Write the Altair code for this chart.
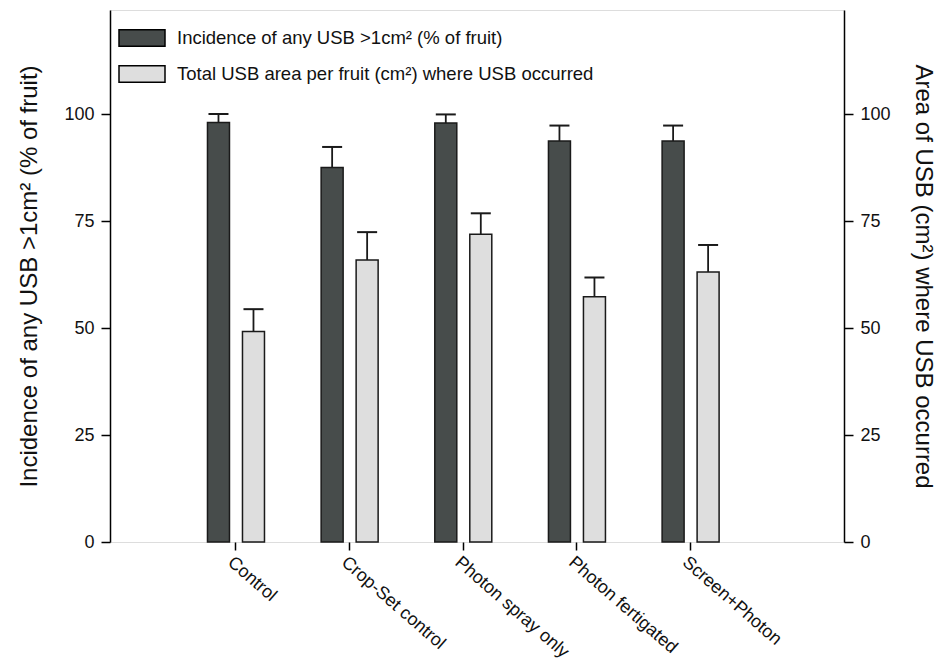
import json
import altair as alt
import pandas as pd

# ---- data ----
categories = ["Control", "Crop-Set control", "Photon spray only", "Photon fertigated", "Screen+Photon"]
incidence = [98.0, 87.5, 97.9, 93.7, 93.7]
incidence_err = [2.0, 4.8, 2.0, 3.6, 3.6]
area = [49.2, 65.9, 71.9, 57.3, 63.1]
area_err = [5.2, 6.5, 4.9, 4.5, 6.3]
y_ticks = [0, 25, 50, 75, 100]
series_names = [
    "Incidence of any USB >1cm² (% of fruit)",
    "Total USB area per fruit (cm²) where USB occurred",
]
left_title = "Incidence of any USB >1cm² (% of fruit)"
right_title = "Area of USB (cm²) where USB occurred"

FONT = "Liberation Sans, Arial, Helvetica, sans-serif"
DARK = "#474c4b"
LIGHT = "#dedede"

positions = list(range(1, len(categories) + 1))

df_inc = pd.DataFrame({
    "cat": categories,
    "pos": positions,
    "value": incidence,
    "upper": [v + e for v, e in zip(incidence, incidence_err)],
    "series": series_names[0],
})
df_area = pd.DataFrame({
    "cat": categories,
    "pos": positions,
    "value": area,
    "upper": [v + e for v, e in zip(area, area_err)],
    "series": series_names[1],
})

xscale = alt.Scale(domain=[-0.06, 6.31], nice=False, zero=False)
yscale = alt.Scale(domain=[0, 124.3], nice=False, zero=True)

x_axis = alt.Axis(
    values=positions,
    labelExpr=json.dumps(categories) + "[datum.value - 1]",
    title=None,
    grid=False,
    domain=False,
    ticks=True,
    tickSize=8,
    tickWidth=1.5,
    tickColor="black",
    labelAngle=41,
    labelAlign="left",
    labelBaseline="top",
    labelPadding=3,
    labelFontSize=18,
    labelFont=FONT,
    labelColor="#111",
    labelOverlap=False,
    labelFlush=False,
)

def y_axis(orient, title, pad):
    return alt.Axis(
        orient=orient,
        values=y_ticks,
        title=title,
        grid=False,
        domain=True,
        domainColor="black",
        domainWidth=1.5,
        tickSize=9,
        tickWidth=1.5,
        tickColor="black",
        labelFontSize=18,
        labelFont=FONT,
        labelColor="#111",
        labelPadding=7,
        titleFontSize=24,
        titleFont=FONT,
        titleFontWeight="normal",
        titleColor="#111",
        titlePadding=pad,
    )

color = alt.Color(
    "series:N",
    scale=alt.Scale(domain=series_names, range=[DARK, LIGHT]),
    legend=alt.Legend(
        title=None,
        orient="none",
        legendX=8,
        legendY=4,
        padding=0,
        symbolType="M-1,-0.36L1,-0.36L1,0.36L-1,0.36Z",
        symbolSize=2116,
        symbolStrokeColor="black",
        symbolStrokeWidth=1.5,
        symbolOpacity=1,
        labelFontSize=18.5,
        labelFont=FONT,
        labelColor="#111",
        labelOffset=11,
        labelLimit=700,
        rowPadding=-17,
    ),
)

def group(df, offset, orient, title, pad):
    base = alt.Chart(df)
    x = alt.X("pos:Q", scale=xscale, axis=x_axis)
    bars = base.mark_bar(size=22, xOffset=offset, stroke="#1a1a1a", strokeWidth=1.5, opacity=1).encode(
        x=x,
        y=alt.Y("value:Q", scale=yscale, axis=y_axis(orient, title, pad)),
        color=color,
    )
    stem = base.mark_rule(xOffset=offset, color="#1a1a1a", strokeWidth=1.8).encode(
        x=x,
        y=alt.Y("value:Q", scale=yscale),
        y2="upper:Q",
    )
    cap = base.mark_tick(orient="horizontal", size=20, thickness=2, xOffset=offset, color="#1a1a1a", opacity=1).encode(
        x=x,
        y=alt.Y("upper:Q", scale=yscale),
    )
    return alt.layer(bars, stem, cap)

left = group(df_inc, -17, "left", left_title, 22)
right = group(df_area, 18, "right", right_title, 20)

chart = (
    alt.layer(left, right)
    .resolve_scale(y="independent")
    .properties(
        width=734,
        height=532,
        autosize=alt.AutoSizeParams(type="none"),
        padding={"left": 102, "top": 2, "right": 97, "bottom": 121},
    )
    .configure_view(stroke="black", strokeWidth=1.5)
    .configure(background="white")
)

chart.save("out.html", embed_options={"renderer": "svg", "actions": False})
